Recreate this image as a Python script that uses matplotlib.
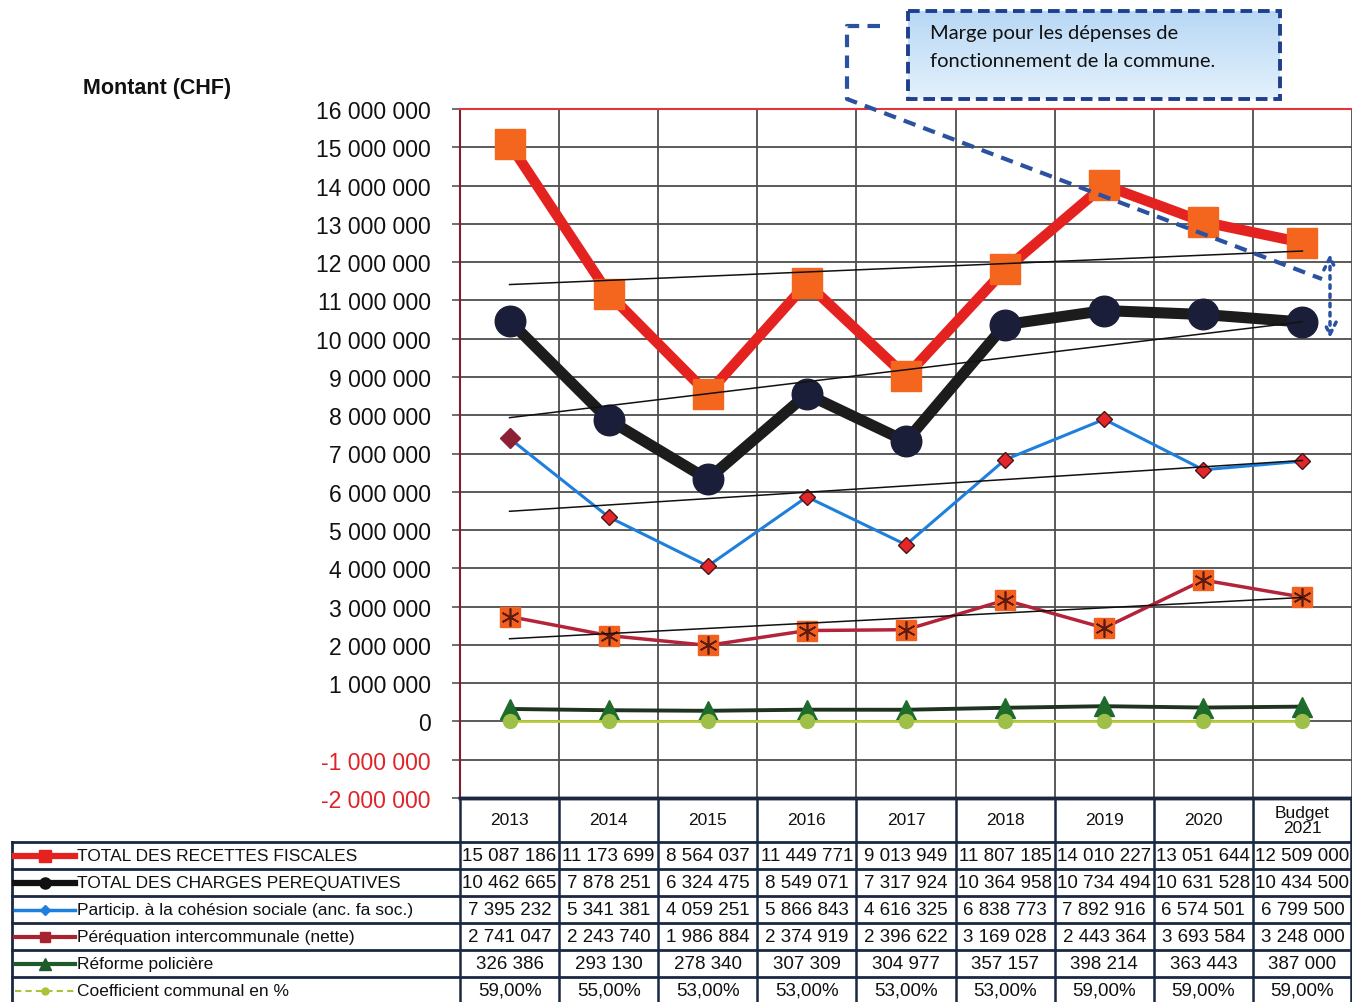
import numpy as np
import matplotlib
matplotlib.use("Agg")
import matplotlib.pyplot as plt
from matplotlib.patches import Rectangle

W, H = 1352, 1003
DPI = 100

YEARS = ["2013", "2014", "2015", "2016", "2017", "2018", "2019", "2020", "Budget\n2021"]

recettes = [15087186, 11173699, 8564037, 11449771, 9013949, 11807185, 14010227, 13051644, 12509000]
charges = [10462665, 7878251, 6324475, 8549071, 7317924, 10364958, 10734494, 10631528, 10434500]
cohesion = [7395232, 5341381, 4059251, 5866843, 4616325, 6838773, 7892916, 6574501, 6799500]
perequation = [2741047, 2243740, 1986884, 2374919, 2396622, 3169028, 2443364, 3693584, 3248000]
reforme = [326386, 293130, 278340, 307309, 304977, 357157, 398214, 363443, 387000]
coefficient = [59.0, 55.0, 53.0, 53.0, 53.0, 53.0, 59.0, 59.0, 59.0]  # en %

ROW_LABELS = [
    "TOTAL DES RECETTES FISCALES",
    "TOTAL DES CHARGES PEREQUATIVES",
    "Particip. à la cohésion sociale (anc. fa soc.)",
    "Péréquation intercommunale (nette)",
    "Réforme policière",
    "Coefficient communal en %",
]

Y_TICKS = list(range(-2000000, 16000001, 1000000))
NOTE = "Marge pour les dépenses de\nfonctionnement de la commune."

FONT = "Liberation Sans"
NAVY = "#1b2842"
DASH_BLUE = "#2a52a0"


def fmt(v):
    return f"{v:,}".replace(",", " ")


def fmt_pct(v):
    return f"{v:.2f}%".replace(".", ",")


def px(x0, y0, w, h):
    # pixel box (from top-left) -> figure fraction
    return [x0 / W, (H - y0 - h) / H, w / W, h / H]


fig = plt.figure(figsize=(W / DPI, H / DPI), dpi=DPI)
fig.patch.set_facecolor("white")

ax = fig.add_axes(px(460, 110, 892, 689))
x = np.arange(len(YEARS))

# grid
ax.set_xlim(-0.5, 8.5)
ax.set_ylim(-2000000, 16000000)
ax.set_xticks(np.arange(-0.5, 9.0, 1.0))
ax.set_xticklabels([])
ax.set_yticks(Y_TICKS)
ax.set_yticklabels([fmt(v) for v in Y_TICKS], fontfamily=FONT, fontsize=16.5)
for lbl, v in zip(ax.get_yticklabels(), Y_TICKS):
    lbl.set_color("#e02229" if v < 0 else "#111111")
ax.tick_params(axis="x", length=0)
ax.tick_params(axis="y", length=6, width=1.2, color="#555555", pad=15)
ax.grid(True, color="#4d4d4d", linewidth=1.3)
ax.set_axisbelow(True)
ax.spines["top"].set_color("#e3343c")
ax.spines["top"].set_linewidth(1.5)
ax.spines["left"].set_color("#7a2030")
ax.spines["left"].set_linewidth(1.5)
ax.spines["right"].set_visible(False)
ax.spines["bottom"].set_color(NAVY)
ax.spines["bottom"].set_linewidth(2.5)

# series
ax.plot(x, recettes, color="#e42320", lw=7.5, marker="s", ms=21,
        mfc="#f4661e", mec="#f4661e", zorder=5)
ax.plot(x, charges, color="#1c1c1c", lw=8, marker="o", ms=22,
        mfc="#1b1e38", mec="#1b1e38", zorder=5)
ax.plot(x, cohesion, color="#1e80dc", lw=2.2, marker="D", ms=8.5,
        mfc="#e3262a", mec="#4a1515", mew=1, zorder=5)
ax.plot(x[:1], cohesion[:1], ls="none", marker="D", ms=10,
        mfc="#8c2035", mec="#8c2035", zorder=6)
ax.plot(x, perequation, color="#b3243a", lw=2.5, marker="s", ms=15,
        mfc="#f2601f", mec="#f2601f", zorder=5)
ax.plot(x, perequation, ls="none", marker=(6, 2, 0), ms=13,
        color="#5c1a10", mew=1.2, zorder=6)
ax.plot(x, reforme, color="#1f3320", lw=2.8, marker="^", ms=14,
        mfc="#1e6b2c", mec="#1e6b2c", zorder=5)
ax.plot(x, np.array(coefficient) / 100, color="#b8cc3a", lw=2, marker="o", ms=10,
        mfc="#9ebf48", mec="#9ebf48", zorder=6)

# trend lines
for s in [recettes, charges, cohesion, perequation]:
    k, b = np.polyfit(x, s, 1)
    ax.plot([x[0], x[-1]], [k * x[0] + b, k * x[-1] + b], color="#111111",
            lw=1.1, zorder=7)

# overlay in pixel coords for table + annotation
ov = fig.add_axes([0, 0, 1, 1])
ov.patch.set_alpha(0)

ov.text(83, 88, "Montant (CHF)", fontfamily=FONT, fontweight="bold",
        fontsize=15.5, va="center", ha="left", color="#111111")

# annotation box
grad = np.linspace(0, 1, 50).reshape(-1, 1)
ov.imshow(grad, extent=[908, 1280, 100, 12], cmap=matplotlib.colors.LinearSegmentedColormap.from_list(
    "bl", ["#b8d8f5", "#e4f1fc"]), aspect="auto", zorder=1)
ov.add_patch(Rectangle((908, 12), 372, 88, fill=False, ec="#1f3f8c", lw=2.8,
                       ls=(0, (3, 1.5)), zorder=2))
ov.text(930, 33, NOTE.split("\n")[0], fontfamily="Lato", fontsize=14.5, va="center",
        ha="left", color="#111111", zorder=3)
ov.text(930, 61, NOTE.split("\n")[1], fontfamily="Lato", fontsize=14.5, va="center",
        ha="left", color="#111111", zorder=3)
ov.plot([880, 847, 847, 1322], [27, 27, 100, 280], color=DASH_BLUE, lw=3,
        ls=(0, (3, 2)), zorder=8)
ov.annotate("", xy=(1330, 252), xytext=(1330, 342),
            arrowprops=dict(arrowstyle="<->", color=DASH_BLUE, lw=2.5,
                            ls=":", mutation_scale=22), zorder=8)

# table
col_w = 892 / 9
col_x = [460 + i * col_w for i in range(10)]
row_y = [843, 870, 897, 924, 951, 978, 1005]

ov.plot([460, W], [799, 799], color=NAVY, lw=2.5)
for y in row_y[:-1]:
    ov.plot([12, W], [y, y], color=NAVY, lw=2)
ov.plot([12, 12], [843, H], color=NAVY, lw=2)
for cx in col_x:
    cx = min(cx, W - 1)
    ov.plot([cx, cx], [799, H], color=NAVY, lw=1.8)

for i, yr in enumerate(YEARS):
    ov.text((col_x[i] + col_x[i + 1]) / 2, 821, yr, fontfamily=FONT, fontsize=12.5,
            ha="center", va="center", linespacing=1.0, color="#111111")

table_rows = [
    [fmt(v) for v in recettes],
    [fmt(v) for v in charges],
    [fmt(v) for v in cohesion],
    [fmt(v) for v in perequation],
    [fmt(v) for v in reforme],
    [fmt_pct(v) for v in coefficient],
]

legend_styles = [
    dict(color="#e42320", lw=4.5, marker="s", ms=8),
    dict(color="#111111", lw=4.5, marker="o", ms=8),
    dict(color="#1e80dc", lw=2.5, marker="D", ms=5),
    dict(color="#a8232f", lw=3, marker="s", ms=7),
    dict(color="#1f5a2a", lw=3, marker="^", ms=8),
    dict(color="#a9c23a", lw=1.5, marker="o", ms=5, ls=(0, (3, 2))),
]

for r, (label, vals, st) in enumerate(zip(ROW_LABELS, table_rows, legend_styles)):
    yc = (row_y[r] + row_y[r + 1]) / 2
    ov.plot([15, 75], [yc, yc], **{k: v for k, v in st.items() if k != "marker" and k != "ms"})
    ov.plot([45], [yc], ls="none", marker=st["marker"], ms=st["ms"], color=st["color"])
    ov.text(77, yc, label, fontfamily=FONT, fontsize=12.5, ha="left", va="center",
            color="#111111")
    for i, t in enumerate(vals):
        ov.text((col_x[i] + col_x[i + 1]) / 2, yc, t, fontfamily=FONT, fontsize=13.5,
                ha="center", va="center", color="#111111")

ov.set_xlim(0, W)
ov.set_ylim(H, 0)
ov.axis("off")

fig.savefig("out.png", dpi=DPI)
plt.close(fig)
